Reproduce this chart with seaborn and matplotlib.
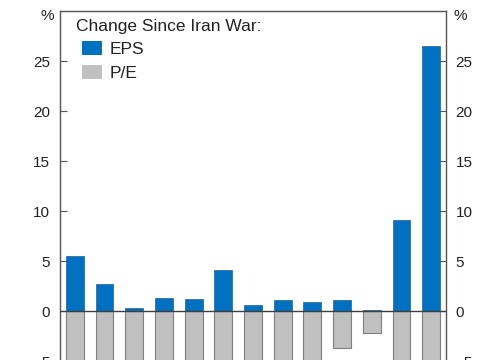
import numpy as np
import pandas as pd
import seaborn as sns
import matplotlib.pyplot as plt
from matplotlib.patches import Patch

sns.set_style('white')
plt.rcParams['font.family'] = ['Liberation Sans', 'DejaVu Sans']

# values (P/E bars below -5 run off the visible area, estimated)
groups = list(range(13))
eps = [5.5, 2.7, 0.27, 1.35, 1.25, 4.1, 0.65, 1.1, 0.9, 1.15, 0.07, 9.1, 26.5]
pe = [-8.0, -7.5, -7.0, -7.2, -6.8, -8.5, -6.5, -7.0, -6.0, -3.7, -2.2, -9.0, -9.5]
yticks = [-5, 0, 5, 10, 15, 20, 25]

df = pd.DataFrame({'grp': groups, 'EPS': eps, 'P/E': pe})

blue = '#0070C0'
grey = '#C0C0C0'

fig = plt.figure(figsize=(4.85, 3.6), dpi=100)
# axes runs past the bottom edge of the figure, as in the cropped original
ax = fig.add_axes([60 / 485, -0.1417, 386 / 485, 400 / 360])

sns.barplot(data=df, x='grp', y='P/E', color=grey, edgecolor='#7f7f7f',
            linewidth=0.8, width=0.6, saturation=1, ax=ax)
sns.barplot(data=df, x='grp', y='EPS', color=blue, edgecolor='#1f5f99',
            linewidth=0.5, width=0.6, saturation=1, ax=ax)

ax.axhline(0, color='#404040', linewidth=1, zorder=3)
ax.set_xlim(-0.5, 12.5)
ax.set_ylim(-10, 30)
ax.set_yticks(yticks)
ax.set_xticks([])
ax.set_xlabel('')
ax.set_ylabel('')
ax.tick_params(axis='y', direction='in', length=5, width=0.8, color='#555555',
               left=True, right=True, labelleft=True, labelright=True,
               labelsize=11, pad=7, labelcolor='#222222')
for s in ax.spines.values():
    s.set_color('#555555')
    s.set_linewidth(1)

fig.text(47 / 485, 1 - 16 / 360, '%', ha='center', va='center', fontsize=11, color='#222222')
fig.text(460 / 485, 1 - 16 / 360, '%', ha='center', va='center', fontsize=11, color='#222222')

# legend title set as its own text so the keys sit indented beneath it
fig.text(76 / 485, 1 - 27 / 360, 'Change Since Iran War:', ha='left', va='center',
         fontsize=12.5, color='#222222')
handles = [Patch(facecolor=blue, edgecolor='none', label='EPS'),
           Patch(facecolor=grey, edgecolor='none', label='P/E')]
leg = fig.legend(handles=handles, loc='upper left',
                 bbox_to_anchor=(82 / 485, 1 - 41 / 360),
                 frameon=False, fontsize=12.5,
                 handlelength=1.15, handleheight=0.85, handletextpad=0.45,
                 labelspacing=0.45, borderaxespad=0, borderpad=0)
for t in leg.get_texts():
    t.set_color('#222222')

fig.savefig('out.png', dpi=100)
